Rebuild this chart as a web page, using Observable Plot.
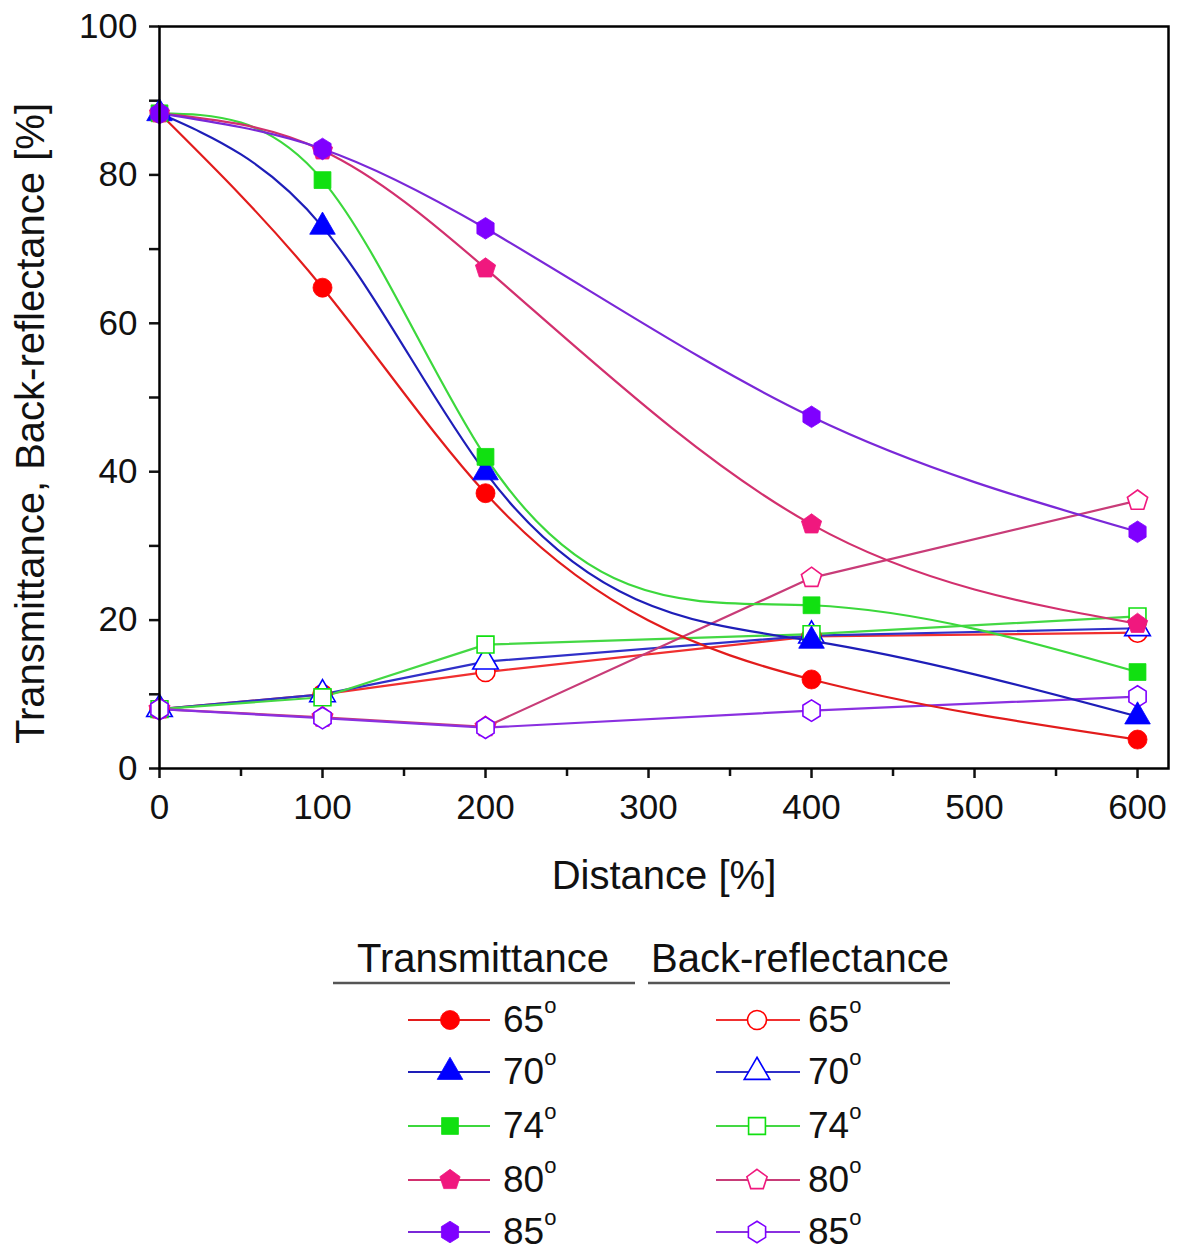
<!DOCTYPE html>
<html>
<head>
<meta charset="utf-8">
<script src="https://cdn.jsdelivr.net/npm/d3@7"></script>
<script src="https://cdn.jsdelivr.net/npm/@observablehq/plot@0.6"></script>
<style>
  html, body { margin: 0; padding: 0; background: #fff; }
  #chart svg { display: block; }
  #legend svg { display: block; }
</style>
</head>
<body>
<div id="chart"></div>
<div id="legend"></div>
<script>
// ---- data ----
const distance = [0, 100, 200, 400, 600];
const angles = ["65", "70", "74", "80", "85"];

const t65 = [88.3, 64.8, 37.1, 12.0, 3.9];
const t70 = [88.3, 73.0, 39.9, 17.2, 7.0];
const t74 = [88.3, 79.3, 42.0, 22.0, 13.0];
const t80 = [88.3, 83.3, 67.4, 32.9, 19.5];
const t85 = [88.3, 83.5, 72.8, 47.4, 31.9];

const r65 = [8.0, 10.0, 13.0, 17.8, 18.3];
const r70 = [8.0, 10.0, 14.4, 17.9, 18.9];
const r74 = [8.0, 9.6, 16.7, 18.1, 20.5];
const r80 = [8.0, 6.9, 5.6, 25.7, 36.1];
const r85 = [8.0, 6.8, 5.5, 7.8, 9.7];

const xMajor = [0, 100, 200, 300, 400, 500, 600];
const xMinor = [50, 150, 250, 350, 450, 550];
const yMajor = [0, 20, 40, 60, 80, 100];
const yMinor = [10, 30, 50, 70, 90];

const headers = ["Transmittance", "Back-reflectance"];
const xLabel = "Distance [%]";
const yLabel = "Transmittance, Back-reflectance [%]";

// ---- natural cubic spline y(x) as a d3-style curve factory ----
function splineX(context) {
  let xs, ys;
  return {
    areaStart() {}, areaEnd() {},
    lineStart() { xs = []; ys = []; },
    point(x, y) { xs.push(+x); ys.push(+y); },
    lineEnd() {
      const n = xs.length;
      if (n === 0) return;
      context.moveTo(xs[0], ys[0]);
      if (n < 3) { for (let i = 1; i < n; i++) context.lineTo(xs[i], ys[i]); return; }
      const h = [];
      for (let i = 0; i < n - 1; i++) h.push(xs[i + 1] - xs[i]);
      // solve for second derivatives M (natural: M0 = Mn-1 = 0)
      const a = new Array(n).fill(0), b = new Array(n).fill(1), c = new Array(n).fill(0), r = new Array(n).fill(0);
      for (let i = 1; i < n - 1; i++) {
        a[i] = h[i - 1] / 6;
        b[i] = (h[i - 1] + h[i]) / 3;
        c[i] = h[i] / 6;
        r[i] = (ys[i + 1] - ys[i]) / h[i] - (ys[i] - ys[i - 1]) / h[i - 1];
      }
      for (let i = 1; i < n; i++) {
        const m = a[i] / b[i - 1];
        b[i] -= m * c[i - 1];
        r[i] -= m * r[i - 1];
      }
      const M = new Array(n).fill(0);
      M[n - 1] = r[n - 1] / b[n - 1];
      for (let i = n - 2; i >= 0; i--) M[i] = (r[i] - c[i] * M[i + 1]) / b[i];
      M[0] = 0; M[n - 1] = 0;
      const d = [];
      for (let i = 0; i < n - 1; i++) d.push((ys[i + 1] - ys[i]) / h[i] - h[i] * (2 * M[i] + M[i + 1]) / 6);
      d.push((ys[n - 1] - ys[n - 2]) / h[n - 2] + h[n - 2] * (M[n - 2] + 2 * M[n - 1]) / 6);
      for (let i = 0; i < n - 1; i++) {
        const k = h[i] / 3;
        context.bezierCurveTo(xs[i] + k, ys[i] + d[i] * k, xs[i + 1] - k, ys[i + 1] - d[i + 1] * k, xs[i + 1], ys[i + 1]);
      }
    }
  };
}

// ---- styles ----
const pentagon = {
  draw(ctx, size) {
    const r = Math.sqrt(size / Math.PI) * 1.12;
    for (let k = 0; k < 5; k++) {
      const a = -Math.PI / 2 + k * 2 * Math.PI / 5;
      const px = r * Math.cos(a), py = r * Math.sin(a);
      k ? ctx.lineTo(px, py) : ctx.moveTo(px, py);
    }
    ctx.closePath();
  }
};
const hexagon = {
  draw(ctx, size) {
    const r = Math.sqrt(size / Math.PI) * 1.08;
    for (let k = 0; k < 6; k++) {
      const a = -Math.PI / 2 + k * Math.PI / 3;
      const px = r * 0.92 * Math.cos(a), py = r * Math.sin(a);
      k ? ctx.lineTo(px, py) : ctx.moveTo(px, py);
    }
    ctx.closePath();
  }
};
const symbols = [d3.symbolCircle, d3.symbolTriangle, d3.symbolSquare, pentagon, hexagon];
const radii = [9.5, 9.5, 9.5, 9.5, 10];
const markColors = ["#ff0000", "#0000ff", "#11e011", "#f0187e", "#7f00ff"];
const tLineColors = ["#e21c1c", "#1e1eb8", "#3cd83c", "#d2306e", "#7a28d8"];
const rLineColors = ["#f03030", "#3030c8", "#44d844", "#c83c78", "#8a30e0"];

const tSeries = [t65, t70, t74, t80, t85];
const rSeries = [r65, r70, r74, r80, r85];

function rows(values) {
  return values.map((v, j) => ({distance: distance[j], value: v}));
}

const marks = [];
// minor ticks
marks.push(Plot.axisX({ticks: xMinor, tickSize: 8, tickFormat: () => "", label: null, strokeWidth: 2.5}));
marks.push(Plot.axisY({ticks: yMinor, tickSize: 10, tickFormat: () => "", label: null, strokeWidth: 2.5}));
// major ticks
marks.push(Plot.axisX({ticks: xMajor, tickSize: 10, tickPadding: 16, label: null, fontSize: 35, strokeWidth: 2.5}));
marks.push(Plot.axisY({ticks: yMajor, tickSize: 10, tickPadding: 12, label: null, fontSize: 35, strokeWidth: 2.5}));

// back-reflectance (open markers)
rSeries.forEach((vals, i) => {
  marks.push(Plot.line(rows(vals), {x: "distance", y: "value", stroke: rLineColors[i], strokeWidth: 2.2}));
});
rSeries.forEach((vals, i) => {
  marks.push(Plot.dot(rows(vals), {x: "distance", y: "value", symbol: symbols[i], r: radii[i], fill: "white", stroke: markColors[i], strokeWidth: 1.6}));
});
// transmittance (filled markers, spline lines)
tSeries.forEach((vals, i) => {
  marks.push(Plot.line(rows(vals), {x: "distance", y: "value", stroke: tLineColors[i], strokeWidth: 2.2, curve: splineX}));
});
tSeries.forEach((vals, i) => {
  marks.push(Plot.dot(rows(vals), {x: "distance", y: "value", symbol: symbols[i], r: radii[i], fill: markColors[i], stroke: markColors[i], strokeWidth: 0.8}));
});

marks.push(Plot.frame({stroke: "#000", strokeWidth: 2.5}));
marks.push(Plot.text([xLabel], {text: d => d, frameAnchor: "bottom", lineAnchor: "middle", dy: 108, fontSize: 40}));
marks.push(Plot.text([yLabel], {text: d => d, frameAnchor: "left", textAnchor: "middle", lineAnchor: "middle", rotate: -90, dx: -128, dy: 26, fontSize: 40}));

const chart = Plot.plot({
  width: 1179,
  height: 905,
  marginLeft: 159,
  marginRight: 11,
  marginTop: 26,
  marginBottom: 137,
  style: {fontFamily: "'Liberation Sans', Arial, sans-serif", color: "#111", background: "white", overflow: "visible"},
  x: {domain: [0, 619]},
  y: {domain: [0, 100]},
  marks
});
document.getElementById("chart").appendChild(chart);

// ---- legend ----
const lg = d3.select("#legend").append("svg")
  .attr("width", 1179).attr("height", 347)
  .style("font-family", "'Liberation Sans', Arial, sans-serif");

const cols = [
  {head: headers[0], cx: 483, ul: [333, 635], line: [408, 490], mx: 450, tx: 503, filled: true, lineColors: tLineColors},
  {head: headers[1], cx: 800, ul: [648, 950], line: [716, 800], mx: 757, tx: 808, filled: false, lineColors: rLineColors}
];
const rowY = [115, 167, 221, 275, 327];

cols.forEach(c => {
  lg.append("text").attr("x", c.cx).attr("y", 67).attr("text-anchor", "middle")
    .attr("font-size", 40).attr("fill", "#111").text(c.head);
  lg.append("line").attr("x1", c.ul[0]).attr("x2", c.ul[1]).attr("y1", 78).attr("y2", 78)
    .attr("stroke", "#555").attr("stroke-width", 2.5);
  angles.forEach((a, i) => {
    const y = rowY[i];
    lg.append("line").attr("x1", c.line[0]).attr("x2", c.line[1]).attr("y1", y).attr("y2", y)
      .attr("stroke", c.lineColors[i]).attr("stroke-width", 2);
    lg.append("path")
      .attr("d", d3.symbol(symbols[i], Math.PI * radii[i] * radii[i])())
      .attr("transform", `translate(${c.mx},${y})`)
      .attr("fill", c.filled ? markColors[i] : "white")
      .attr("stroke", markColors[i])
      .attr("stroke-width", c.filled ? 0.8 : 1.6);
    const t = lg.append("text").attr("x", c.tx).attr("y", y + 12).attr("font-size", 37).attr("fill", "#111");
    t.append("tspan").text(a);
    t.append("tspan").attr("font-size", 22).attr("dy", -19).text("o");
  });
});
</script>
</body>
</html>
